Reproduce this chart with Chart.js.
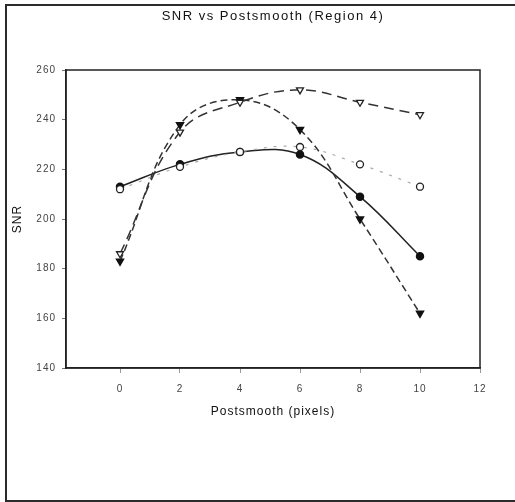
<!DOCTYPE html>
<html>
<head>
  <meta charset="UTF-8">
  <title>SNR vs Postsmooth (Region 4)</title>
  <script src="https://cdn.jsdelivr.net/npm/chart.js"></script>
  <style>
    body {
      margin: 0;
      background: #fff;
      font-family: "Liberation Sans", Arial, sans-serif;
    }
    #frame {
      position: absolute;
      left: 5px;
      top: 4px;
      width: 530px;
      height: 494px;
      border: 2px solid #2b2b2b;
    }
    canvas {
      position: absolute;
      left: 0;
      top: 0;
    }
  </style>
</head>
<body>
  <div id="frame"></div>
  <canvas id="snrChart" width="515" height="502"></canvas>

  <script>
    const postsmooth = [0, 2, 4, 6, 8, 10];
    const xTicks = [0, 2, 4, 6, 8, 10, 12];

    const seriesA = [213, 222, 227, 226, 209, 185];   // filled circle, solid
    const seriesB = [212, 221, 227, 229, 222, 213];   // open circle, dotted
    const seriesC = [183, 238, 248, 236, 200, 162];   // filled triangle, dashed
    const seriesD = [186, 235, 247, 252, 247, 242];   // open triangle, long dash

    const toPoints = vals => vals.map((v, i) => ({ x: postsmooth[i], y: v }));

    // plot box + centered title over the plot area
    const boxPlugin = {
      id: 'box',
      beforeDraw(chart) {
        chart.ctx.letterSpacing = '1px';
      },
      afterDraw(chart) {
        const { ctx, chartArea: a } = chart;
        ctx.save();
        ctx.strokeStyle = '#222';
        ctx.lineWidth = 1.5;
        ctx.strokeRect(a.left, a.top, a.right - a.left, a.bottom - a.top);
        ctx.letterSpacing = '1.5px';
        ctx.fillStyle = '#111';
        ctx.font = '13px "Liberation Sans", Arial, sans-serif';
        ctx.textAlign = 'center';
        ctx.textBaseline = 'middle';
        ctx.fillText('SNR vs Postsmooth (Region 4)', (a.left + a.right) / 2, 16);
        ctx.restore();
      }
    };

    new Chart(document.getElementById('snrChart'), {
      type: 'line',
      data: {
        datasets: [
          {
            data: toPoints(seriesB),
            borderColor: '#aaa',
            borderWidth: 1.2,
            borderDash: [3, 7],
            pointStyle: 'circle',
            pointRadius: 3.5,
            pointBackgroundColor: '#fff',
            pointBorderColor: '#222',
            pointBorderWidth: 1.3,
            tension: 0.4
          },
          {
            data: toPoints(seriesD),
            borderColor: '#333',
            borderWidth: 1.5,
            borderDash: [10, 6],
            pointStyle: 'triangle',
            pointRotation: 180,
            pointRadius: 4,
            pointBackgroundColor: '#fff',
            pointBorderColor: '#222',
            pointBorderWidth: 1.3,
            tension: 0.4
          },
          {
            data: toPoints(seriesC),
            borderColor: '#333',
            borderWidth: 1.5,
            borderDash: [7, 4],
            pointStyle: 'triangle',
            pointRotation: 180,
            pointRadius: 4,
            pointBackgroundColor: '#111',
            pointBorderColor: '#111',
            tension: 0.4
          },
          {
            data: toPoints(seriesA),
            borderColor: '#222',
            borderWidth: 1.5,
            pointStyle: 'circle',
            pointRadius: 3.5,
            pointBackgroundColor: '#111',
            pointBorderColor: '#111',
            tension: 0.4
          }
        ]
      },
      options: {
        responsive: false,
        animation: false,
        layout: { padding: { left: 0, right: 35, top: 70, bottom: 0 } },
        plugins: {
          legend: { display: false },
          tooltip: { enabled: false }
        },
        scales: {
          x: {
            type: 'linear',
            min: -1.8,
            max: 12,
            afterBuildTicks: s => { s.ticks = xTicks.map(v => ({ value: v })); },
            afterFit: s => { s.height = 134; },
            border: { color: '#222', width: 1.5 },
            grid: { drawOnChartArea: false, tickLength: 5, color: '#999' },
            ticks: {
              padding: 10,
              color: '#444',
              font: { size: 10, family: '"Liberation Sans", Arial, sans-serif' }
            },
            title: {
              display: true,
              text: 'Postsmooth (pixels)',
              color: '#111',
              padding: { top: 0, bottom: 83 },
              font: { size: 12, family: '"Liberation Sans", Arial, sans-serif' }
            }
          },
          y: {
            min: 140,
            max: 260,
            afterFit: s => { s.width = 66; },
            border: { color: '#222', width: 1.5 },
            grid: { drawOnChartArea: false, tickLength: 4, color: '#777' },
            ticks: {
              stepSize: 20,
              padding: 6,
              color: '#444',
              font: { size: 10, family: '"Liberation Sans", Arial, sans-serif' }
            },
            title: {
              display: true,
              text: 'SNR',
              color: '#111',
              padding: { top: 10, bottom: 0 },
              font: { size: 12, family: '"Liberation Sans", Arial, sans-serif' }
            }
          }
        }
      },
      plugins: [boxPlugin]
    });
  </script>
</body>
</html>
